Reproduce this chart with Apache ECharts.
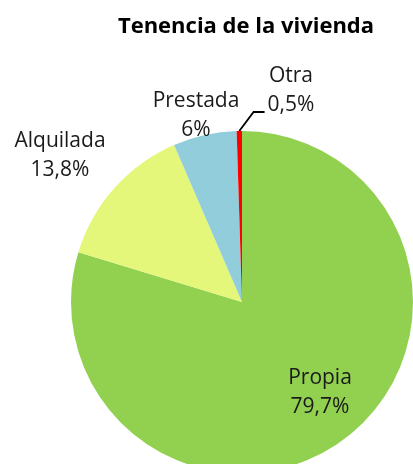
<!DOCTYPE html>
<html>
<head>
<meta charset="utf-8">
<script src="https://cdn.jsdelivr.net/npm/echarts@6/dist/echarts.min.js"></script>
<style>
html,body{margin:0;padding:0;background:#fff;}
#chart{width:413px;height:464px;}
</style>
</head>
<body>
<div id="chart"></div>
<script>
var titleText = 'Tenencia de la vivienda';
var categories = ['Propia', 'Alquilada', 'Prestada', 'Otra'];
var values = [79.7, 13.8, 6, 0.5];
var colors = ['#92D050', '#E4F77A', '#92CDDC', '#FF0000'];
// label centre positions (text only)
var labelCentres = [[320, 393], [60, 156], [196, 116], [291, 91]];

var chart = echarts.init(document.getElementById('chart'), null, {renderer: 'canvas'});
var FONT = 'Open Sans';

var data = categories.map(function (c, i) {
  return {
    name: c,
    value: values[i],
    itemStyle: {color: colors[i]},
    labelLine: {show: c === 'Otra'}
  };
});

chart.setOption({
  animation: false,
  title: {
    text: titleText,
    left: 241,
    top: 11,
    textAlign: 'center',
    textStyle: {fontFamily: FONT, fontSize: 22, fontWeight: 'bold', color: '#000'}
  },
  series: [{
    type: 'pie',
    center: [242, 302],
    radius: 171,
    startAngle: 90,
    clockwise: true,
    avoidLabelOverlap: false,
    itemStyle: {borderWidth: 0},
    label: {
      show: true,
      position: 'outside',
      fontFamily: FONT,
      fontSize: 21,
      lineHeight: 29,
      color: '#1a1a1a',
      align: 'center',
      formatter: function (p) {
        return p.name + '\n' + String(p.value).replace('.', ',') + '%';
      }
    },
    labelLine: {
      show: false,
      lineStyle: {color: '#000', width: 1.8}
    },
    labelLayout: function (p) {
      var c = labelCentres[p.dataIndex];
      var res = {x: c[0], y: c[1], align: 'center', verticalAlign: 'middle'};
      if (categories[p.dataIndex] === 'Otra' && p.labelLinePoints) {
        var start = p.labelLinePoints[0];
        var endX = c[0] - p.labelRect.width / 2 - 3;
        var yMid = c[1] + 21;
        res.labelLinePoints = [start, [endX - 11, yMid], [endX, yMid]];
      }
      return res;
    },
    data: data
  }]
});
</script>
</body>
</html>
